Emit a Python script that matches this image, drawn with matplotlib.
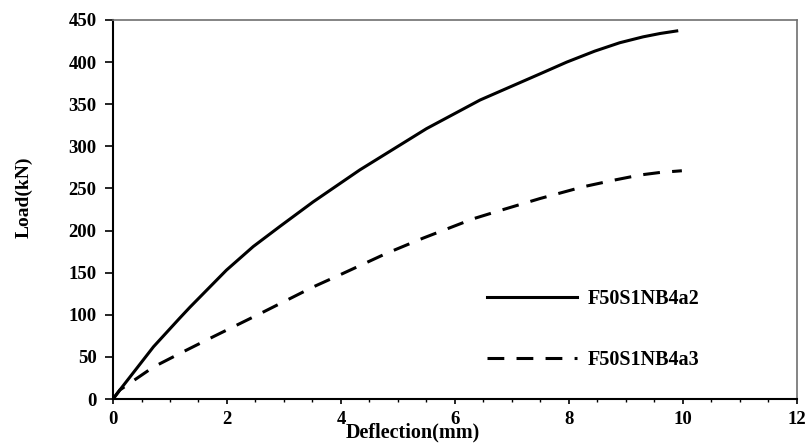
import matplotlib
matplotlib.use('Agg')
import matplotlib.pyplot as plt
from matplotlib.ticker import MultipleLocator

# data
defl_a2 = [0, 0.12, 0.4, 0.71, 1.17, 1.35, 1.99, 2.46, 2.93, 3.51, 4.33, 5.5, 6.44, 7.49, 7.96, 8.45, 8.89, 9.3, 9.6, 9.89]
load_a2 = [0, 10.7, 35, 62, 96, 109, 153, 181, 205, 234, 272, 321, 355, 386, 400, 413, 423, 430, 434, 437]

defl_a3 = [0, 0.12, 0.71, 1.2, 1.76, 2.57, 3.51, 4.0, 4.8, 5.44, 6.32, 6.8, 7.49, 8.25, 8.8, 9.25, 9.6, 9.98]
load_a3 = [0, 10.7, 38, 55, 74, 101, 133, 148, 173, 191, 214, 224, 238, 252, 260, 266, 269, 271]

labels = ['F50S1NB4a2', 'F50S1NB4a3']

plt.rcParams['font.family'] = ['Liberation Serif', 'DejaVu Serif']
plt.rcParams['font.weight'] = 'bold'

fig = plt.figure(figsize=(8.07, 4.45), dpi=100)
ax = fig.add_axes([113 / 807, 46 / 445, 684 / 807, 379 / 445])

ax.plot(defl_a2, load_a2, color='black', lw=2.2, label=labels[0])
ax.plot(defl_a3, load_a3, color='black', lw=2.2, dashes=(5.5, 4.0), label=labels[1])

ax.set_xlim(0, 12)
ax.set_ylim(0, 450)
ax.xaxis.set_major_locator(MultipleLocator(2))
ax.xaxis.set_minor_locator(MultipleLocator(0.5))
ax.yaxis.set_major_locator(MultipleLocator(50))

ax.tick_params(axis='both', which='major', direction='out', width=1.2, labelsize=13.5)
ax.tick_params(axis='x', which='major', length=3.5, pad=5)
ax.tick_params(axis='x', which='minor', direction='out', length=2.5, width=1.0)
ax.tick_params(axis='y', which='major', length=5.8, pad=6)
for t in ax.get_xticklabels() + ax.get_yticklabels():
    t.set_fontweight('bold')

for s in ['left', 'bottom']:
    ax.spines[s].set_color('black')
    ax.spines[s].set_linewidth(1.5)
for s in ['top', 'right']:
    ax.spines[s].set_color('#707070')
    ax.spines[s].set_linewidth(1.2)

ax.set_xlabel('Deflection(mm)', fontsize=14.5, fontweight='bold')
ax.set_ylabel('Load(kN)', fontsize=14, fontweight='bold')
ax.xaxis.set_label_coords(0.438, -0.062)
ax.yaxis.set_label_coords(-0.117, 0.533)

leg = ax.legend(loc='upper left', bbox_to_anchor=(0.52, 0.338), frameon=False,
                prop={'family': 'Liberation Serif', 'weight': 'bold', 'size': 14.5},
                handlelength=4.5, handletextpad=0.5, labelspacing=2.05)

fig.savefig('out.png', dpi=100)
